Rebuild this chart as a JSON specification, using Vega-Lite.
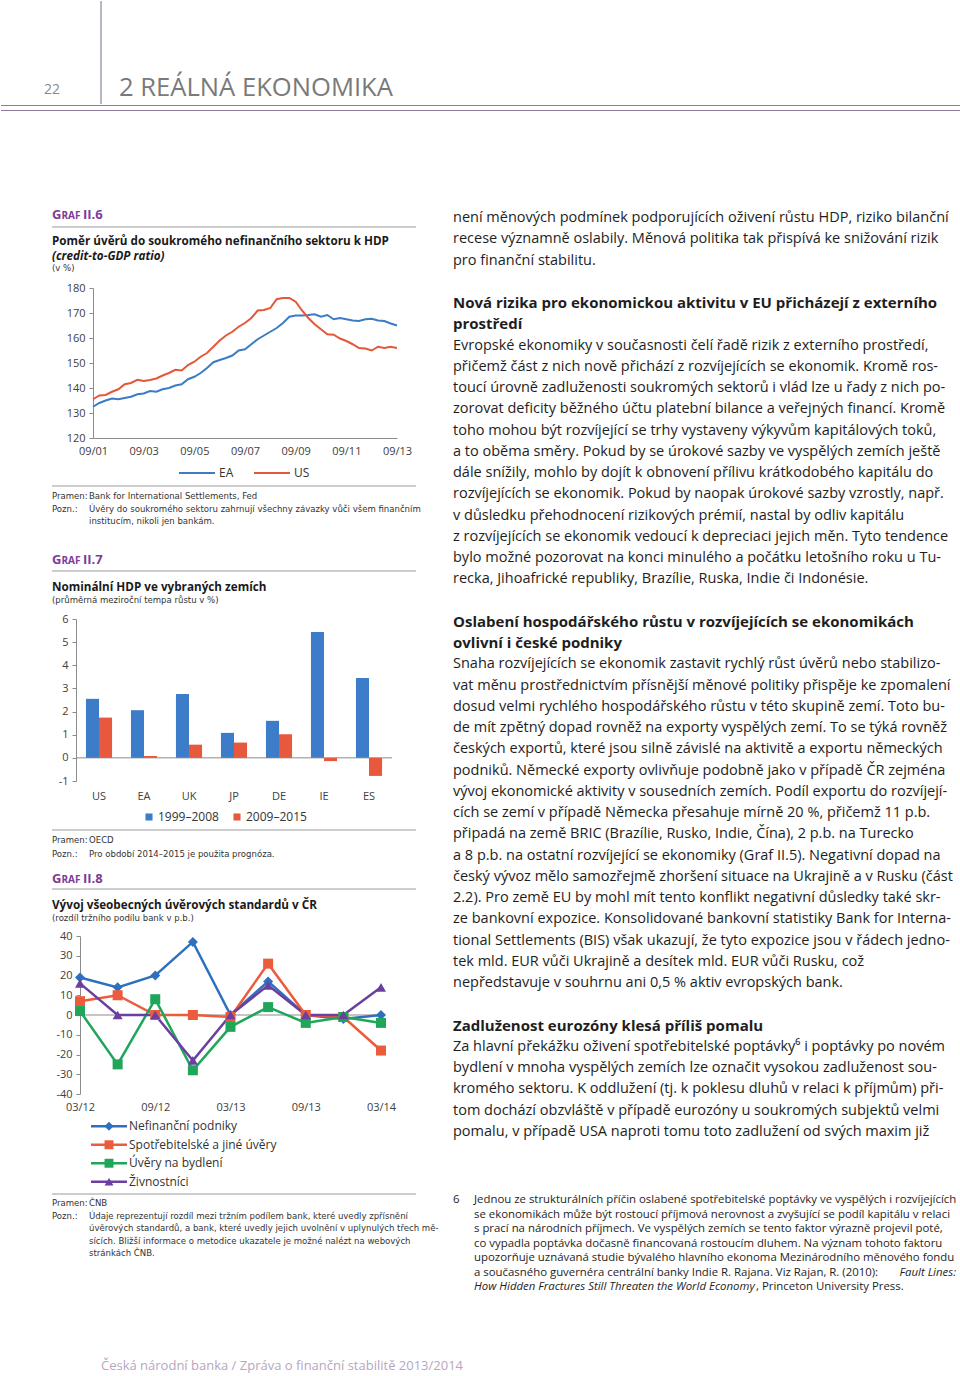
{
"$schema": "https://vega.github.io/schema/vega-lite/v6.json",
"padding": 0,
"background": "white",
"spacing": 0,
"resolve": {"scale": {"color": "independent", "shape": "independent"}, "legend": {"color": "independent", "shape": "independent"}},
"config": {
  "view": {"stroke": null},
  "font": "Open Sans",
  "axis": {"labelFont": "Open Sans", "labelFontSize": 11, "labelColor": "#404040", "domainColor": "#8c8c8c", "tickColor": "#8c8c8c", "grid": false, "labelOverlap": false, "labelBound": false},
  "legend": {"labelFont": "Open Sans", "labelFontSize": 12, "labelColor": "#333333"}
},
"datasets": {
  "credit": [
    {"period":"09/01","EA":132.5,"US":135.5},{"period":"12/01","EA":134,"US":137},{"period":"03/02","EA":135,"US":137.2},{"period":"06/02","EA":135.8,"US":138.5},
    {"period":"09/02","EA":135.5,"US":139.5},{"period":"12/02","EA":136,"US":141.5},{"period":"03/03","EA":136.5,"US":142},{"period":"06/03","EA":137.5,"US":143.3},
    {"period":"09/03","EA":137.8,"US":142.8},{"period":"12/03","EA":138.8,"US":143.2},{"period":"03/04","EA":138.5,"US":143.8},{"period":"06/04","EA":139.5,"US":145},
    {"period":"09/04","EA":140,"US":146},{"period":"12/04","EA":141,"US":147.3},{"period":"03/05","EA":141.5,"US":147},{"period":"06/05","EA":143.5,"US":149.2},
    {"period":"09/05","EA":144.5,"US":150.5},{"period":"12/05","EA":146,"US":152.5},{"period":"03/06","EA":148,"US":154},{"period":"06/06","EA":150.3,"US":156.5},
    {"period":"09/06","EA":151.2,"US":159},{"period":"12/06","EA":152,"US":161},{"period":"03/07","EA":153,"US":162.5},{"period":"06/07","EA":155,"US":164.5},
    {"period":"09/07","EA":155.5,"US":166},{"period":"12/07","EA":157.5,"US":168},{"period":"03/08","EA":159.5,"US":171},{"period":"06/08","EA":161,"US":171.2},
    {"period":"09/08","EA":162.5,"US":172},{"period":"12/08","EA":164,"US":175.5},{"period":"03/09","EA":166,"US":176},{"period":"06/09","EA":168.5,"US":176},
    {"period":"09/09","EA":169,"US":174.5},{"period":"12/09","EA":169,"US":171},{"period":"03/10","EA":169.2,"US":168},{"period":"06/10","EA":169.5,"US":165.5},
    {"period":"09/10","EA":168.5,"US":163.5},{"period":"12/10","EA":169.2,"US":161.5},{"period":"03/11","EA":167.5,"US":161.3},{"period":"06/11","EA":168,"US":159.8},
    {"period":"09/11","EA":167.5,"US":158.8},{"period":"12/11","EA":167,"US":157.5},{"period":"03/12","EA":166.8,"US":156},{"period":"06/12","EA":167.5,"US":155.8},
    {"period":"09/12","EA":167.7,"US":155},{"period":"12/12","EA":167,"US":156.5},{"period":"03/13","EA":166.8,"US":156},{"period":"06/13","EA":165.8,"US":156.5},
    {"period":"09/13","EA":165,"US":156}
  ],
  "gdp": [
    {"country":"US","period":"1999–2008","value":2.55},{"country":"US","period":"2009–2015","value":1.74},
    {"country":"EA","period":"1999–2008","value":2.06},{"country":"EA","period":"2009–2015","value":0.08},
    {"country":"UK","period":"1999–2008","value":2.76},{"country":"UK","period":"2009–2015","value":0.57},
    {"country":"JP","period":"1999–2008","value":1.08},{"country":"JP","period":"2009–2015","value":0.66},
    {"country":"DE","period":"1999–2008","value":1.6},{"country":"DE","period":"2009–2015","value":1.02},
    {"country":"IE","period":"1999–2008","value":5.44},{"country":"IE","period":"2009–2015","value":-0.14},
    {"country":"ES","period":"1999–2008","value":3.45},{"country":"ES","period":"2009–2015","value":-0.78}
  ],
  "standards": [
    {"period":"03/12","series":"Nefinanční podniky","value":19},{"period":"06/12","series":"Nefinanční podniky","value":14},{"period":"09/12","series":"Nefinanční podniky","value":20},
    {"period":"12/12","series":"Nefinanční podniky","value":37},{"period":"03/13","series":"Nefinanční podniky","value":0},{"period":"06/13","series":"Nefinanční podniky","value":17},
    {"period":"09/13","series":"Nefinanční podniky","value":0},{"period":"12/13","series":"Nefinanční podniky","value":-2},{"period":"03/14","series":"Nefinanční podniky","value":0},
    {"period":"03/12","series":"Spotřebitelské a jiné úvěry","value":7},{"period":"06/12","series":"Spotřebitelské a jiné úvěry","value":10},{"period":"09/12","series":"Spotřebitelské a jiné úvěry","value":0},
    {"period":"12/12","series":"Spotřebitelské a jiné úvěry","value":0},{"period":"03/13","series":"Spotřebitelské a jiné úvěry","value":-1},{"period":"06/13","series":"Spotřebitelské a jiné úvěry","value":26},
    {"period":"09/13","series":"Spotřebitelské a jiné úvěry","value":0},{"period":"12/13","series":"Spotřebitelské a jiné úvěry","value":-1},{"period":"03/14","series":"Spotřebitelské a jiné úvěry","value":-18},
    {"period":"03/12","series":"Úvěry na bydlení","value":2},{"period":"06/12","series":"Úvěry na bydlení","value":-25},{"period":"09/12","series":"Úvěry na bydlení","value":8},
    {"period":"12/12","series":"Úvěry na bydlení","value":-28},{"period":"03/13","series":"Úvěry na bydlení","value":-6},{"period":"06/13","series":"Úvěry na bydlení","value":4},
    {"period":"09/13","series":"Úvěry na bydlení","value":-4},{"period":"12/13","series":"Úvěry na bydlení","value":-1},{"period":"03/14","series":"Úvěry na bydlení","value":-4},
    {"period":"03/12","series":"Živnostníci","value":16},{"period":"06/12","series":"Živnostníci","value":0},{"period":"09/12","series":"Živnostníci","value":0},
    {"period":"12/12","series":"Živnostníci","value":-23},{"period":"03/13","series":"Živnostníci","value":0},{"period":"06/13","series":"Živnostníci","value":15},
    {"period":"09/13","series":"Živnostníci","value":0},{"period":"12/13","series":"Živnostníci","value":0},{"period":"03/14","series":"Živnostníci","value":14}
  ],
  "series": [
    {"series":"Nefinanční podniky"},{"series":"Spotřebitelské a jiné úvěry"},{"series":"Úvěry na bydlení"},{"series":"Živnostníci"}
  ],
  "bodytext": [
    {"line":0,"kind":"body","text":"není měnových podmínek podporujících oživení růstu HDP, riziko bilanční"},
    {"line":1,"kind":"body","text":"recese významně oslabily. Měnová politika tak přispívá ke snižování rizik"},
    {"line":2,"kind":"body","text":"pro finanční stabilitu."},
    {"line":4,"kind":"heading","text":"Nová rizika pro ekonomickou aktivitu v EU přicházejí z externího"},
    {"line":5,"kind":"heading","text":"prostředí"},
    {"line":6,"kind":"body","text":"Evropské ekonomiky v současnosti čelí řadě rizik z externího prostředí,"},
    {"line":7,"kind":"body","text":"přičemž část z nich nově přichází z rozvíjejících se ekonomik. Kromě ros-"},
    {"line":8,"kind":"body","text":"toucí úrovně zadluženosti soukromých sektorů i vlád lze u řady z nich po-"},
    {"line":9,"kind":"body","text":"zorovat deficity běžného účtu platební bilance a veřejných financí. Kromě"},
    {"line":10,"kind":"body","text":"toho mohou být rozvíjející se trhy vystaveny výkyvům kapitálových toků,"},
    {"line":11,"kind":"body","text":"a to oběma směry. Pokud by se úrokové sazby ve vyspělých zemích ještě"},
    {"line":12,"kind":"body","text":"dále snížily, mohlo by dojít k obnovení přílivu krátkodobého kapitálu do"},
    {"line":13,"kind":"body","text":"rozvíjejících se ekonomik. Pokud by naopak úrokové sazby vzrostly, např."},
    {"line":14,"kind":"body","text":"v důsledku přehodnocení rizikových prémií, nastal by odliv kapitálu"},
    {"line":15,"kind":"body","text":"z rozvíjejících se ekonomik vedoucí k depreciaci jejich měn. Tyto tendence"},
    {"line":16,"kind":"body","text":"bylo možné pozorovat na konci minulého a počátku letošního roku u Tu-"},
    {"line":17,"kind":"body","text":"recka, Jihoafrické republiky, Brazílie, Ruska, Indie či Indonésie."},
    {"line":19,"kind":"heading","text":"Oslabení hospodářského růstu v rozvíjejících se ekonomikách"},
    {"line":20,"kind":"heading","text":"ovlivní i české podniky"},
    {"line":21,"kind":"body","text":"Snaha rozvíjejících se ekonomik zastavit rychlý růst úvěrů nebo stabilizo-"},
    {"line":22,"kind":"body","text":"vat měnu prostřednictvím přísnější měnové politiky přispěje ke zpomalení"},
    {"line":23,"kind":"body","text":"dosud velmi rychlého hospodářského růstu v této skupině zemí. Toto bu-"},
    {"line":24,"kind":"body","text":"de mít zpětný dopad rovněž na exporty vyspělých zemí. To se týká rovněž"},
    {"line":25,"kind":"body","text":"českých exportů, které jsou silně závislé na aktivitě a exportu německých"},
    {"line":26,"kind":"body","text":"podniků. Německé exporty ovlivňuje podobně jako v případě ČR zejména"},
    {"line":27,"kind":"body","text":"vývoj ekonomické aktivity v sousedních zemích. Podíl exportu do rozvíjejí-"},
    {"line":28,"kind":"body","text":"cích se zemí v případě Německa přesahuje mírně 20 %, přičemž 11 p.b."},
    {"line":29,"kind":"body","text":"připadá na země BRIC (Brazílie, Rusko, Indie, Čína), 2 p.b. na Turecko"},
    {"line":30,"kind":"body","text":"a 8 p.b. na ostatní rozvíjející se ekonomiky (Graf II.5). Negativní dopad na"},
    {"line":31,"kind":"body","text":"český vývoz mělo samozřejmě zhoršení situace na Ukrajině a v Rusku (část"},
    {"line":32,"kind":"body","text":"2.2). Pro země EU by mohl mít tento konflikt negativní důsledky také skr-"},
    {"line":33,"kind":"body","text":"ze bankovní expozice. Konsolidované bankovní statistiky Bank for Interna-"},
    {"line":34,"kind":"body","text":"tional Settlements (BIS) však ukazují, že tyto expozice jsou v řádech jedno-"},
    {"line":35,"kind":"body","text":"tek mld. EUR vůči Ukrajině a desítek mld. EUR vůči Rusku, což"},
    {"line":36,"kind":"body","text":"nepředstavuje v souhrnu ani 0,5 % aktiv evropských bank."},
    {"line":38,"kind":"heading","text":"Zadluženost eurozóny klesá příliš pomalu"},
    {"line":39,"kind":"body","text":"Za hlavní překážku oživení spotřebitelské poptávky⁶ i poptávky po novém"},
    {"line":40,"kind":"body","text":"bydlení v mnoha vyspělých zemích lze označit vysokou zadluženost sou-"},
    {"line":41,"kind":"body","text":"kromého sektoru. K oddlužení (tj. k poklesu dluhů v relaci k příjmům) při-"},
    {"line":42,"kind":"body","text":"tom dochází obzvláště v případě eurozóny u soukromých subjektů velmi"},
    {"line":43,"kind":"body","text":"pomalu, v případě USA naproti tomu toto zadlužení od svých maxim již"}
  ],
  "footnote": [
    {"line":0,"text":"Jednou ze strukturálních příčin oslabené spotřebitelské poptávky ve vyspělých i rozvíjejících"},
    {"line":1,"text":"se ekonomikách může být rostoucí příjmová nerovnost a zvyšující se podíl kapitálu v relaci"},
    {"line":2,"text":"s prací na národních příjmech. Ve vyspělých zemích se tento faktor výrazně projevil poté,"},
    {"line":3,"text":"co vypadla poptávka dočasně financovaná rostoucím dluhem. Na význam tohoto faktoru"},
    {"line":4,"text":"upozorňuje uznávaná studie bývalého hlavního ekonoma Mezinárodního měnového fondu"},
    {"line":5,"text":"a současného guvernéra centrální banky Indie R. Rajana. Viz Rajan, R. (2010):"}
  ]
},
"vconcat": [
  {
    "width": 960, "height": 112,
    "data": {"values": [{}]},
    "layer": [
      {"mark": {"type": "rule", "color": "#7d6a88", "strokeWidth": 1}, "encoding": {"x": {"value": 100}, "y": {"value": 0}, "y2": {"value": 103}}},
      {"mark": {"type": "rule", "color": "#8f7b9b", "strokeWidth": 1.2}, "encoding": {"x": {"value": 0}, "x2": {"value": 960}, "y": {"value": 104.5}}},
      {"mark": {"type": "rule", "color": "#8f7b9b", "strokeWidth": 1.2}, "encoding": {"x": {"value": 0}, "x2": {"value": 960}, "y": {"value": 109.5}}},
      {"mark": {"type": "text", "text": "22", "x": 43, "y": 93, "align": "left", "baseline": "alphabetic", "fontSize": 14, "color": "#8a8a8a"}},
      {"mark": {"type": "text", "text": "2 REÁLNÁ EKONOMIKA", "x": 118, "y": 95, "align": "left", "baseline": "alphabetic", "fontSize": 25.6, "color": "#7a7a7a"}}
    ]
  },
  {
    "spacing": 0,
    "resolve": {"scale": {"color": "independent", "shape": "independent"}, "legend": {"color": "independent", "shape": "independent"}},
    "hconcat": [
      {
        "spacing": 0, "bounds": "flush",
        "resolve": {"scale": {"color": "independent", "shape": "independent"}, "legend": {"color": "independent", "shape": "independent"}},
        "vconcat": [
          {
            "width": 452, "height": 175,
            "data": {"values": [{}]},
            "layer": [
              {"mark": {"type": "text", "text": "G", "x": 51, "y": 106, "align": "left", "baseline": "alphabetic", "fontSize": 13, "fontWeight": "bold", "color": "#7d3c98"}},
              {"mark": {"type": "text", "text": "RAF", "x": 60.5, "y": 106, "align": "left", "baseline": "alphabetic", "fontSize": 10, "fontWeight": "bold", "color": "#7d3c98"}},
              {"mark": {"type": "text", "text": "II.6", "x": 82, "y": 106, "align": "left", "baseline": "alphabetic", "fontSize": 13, "fontWeight": "bold", "color": "#7d3c98"}},
              {"mark": {"type": "rule", "color": "#9b9b9b", "strokeWidth": 1}, "encoding": {"x": {"value": 51}, "x2": {"value": 415}, "y": {"value": 114}}},
              {"mark": {"type": "text", "text": "Poměr úvěrů do soukromého nefinančního sektoru k HDP", "x": 51, "y": 132, "align": "left", "baseline": "alphabetic", "fontSize": 11.7, "fontWeight": "bold", "color": "#1a1a1a"}},
              {"mark": {"type": "text", "text": "(credit-to-GDP ratio)", "x": 51, "y": 146.5, "align": "left", "baseline": "alphabetic", "fontSize": 11.7, "fontWeight": "bold", "fontStyle": "italic", "color": "#1a1a1a"}},
              {"mark": {"type": "text", "text": "(v %)", "x": 51, "y": 158, "align": "left", "baseline": "alphabetic", "fontSize": 9.5, "font": "Liberation Sans Narrow, DejaVu Sans Condensed, sans-serif", "color": "#333333"}}
            ]
          },
          {
            "width": 396, "height": 150,
            "data": {"name": "credit"},
            "transform": [{"fold": ["EA", "US"], "as": ["series", "value"]}],
            "mark": {"type": "line", "strokeWidth": 2},
            "encoding": {
              "x": {"field": "period", "type": "ordinal", "sort": null, "scale": {"type": "point", "padding": 0, "range": [92, 396]},
                    "axis": {"values": ["09/01","09/03","09/05","09/07","09/09","09/11","09/13"], "labelAngle": 0, "ticks": false, "labelPadding": 7, "labelOverlap": false, "title": null}},
              "y": {"field": "value", "type": "quantitative", "scale": {"domain": [120, 180], "nice": false, "zero": false},
                    "axis": {"values": [120,130,140,150,160,170,180], "offset": -92, "tickSize": 4, "labelPadding": 4, "labelOverlap": false, "title": null}},
              "color": {"field": "series", "type": "nominal", "scale": {"domain": ["EA", "US"], "range": ["#3b7cc4", "#e4583a"]},
                        "legend": {"orient": "none", "legendX": 177, "legendY": 166, "direction": "horizontal", "symbolType": "stroke", "symbolSize": 1296, "symbolStrokeWidth": 2, "title": null, "columnPadding": 16, "labelOffset": 3}}
            }
          },
          {
            "width": 452, "height": 181,
            "data": {"values": [{}]},
            "layer": [
              {"mark": {"type": "rule", "color": "#9b9b9b", "strokeWidth": 1}, "encoding": {"x": {"value": 51}, "x2": {"value": 415}, "y": {"value": 48}}},
              {"mark": {"type": "text", "text": "Pramen:", "x": 51, "y": 60.5, "align": "left", "baseline": "alphabetic", "fontSize": 9.5, "font": "Liberation Sans Narrow, DejaVu Sans Condensed, sans-serif", "color": "#333333"}},
              {"mark": {"type": "text", "text": "Bank for International Settlements, Fed", "x": 88, "y": 60.5, "align": "left", "baseline": "alphabetic", "fontSize": 9.5, "font": "Liberation Sans Narrow, DejaVu Sans Condensed, sans-serif", "color": "#333333"}},
              {"mark": {"type": "text", "text": "Pozn.:", "x": 51, "y": 73.5, "align": "left", "baseline": "alphabetic", "fontSize": 9.5, "font": "Liberation Sans Narrow, DejaVu Sans Condensed, sans-serif", "color": "#333333"}},
              {"mark": {"type": "text", "text": ["Úvěry do soukromého sektoru zahrnují všechny závazky vůči všem finančním", "institucím, nikoli jen bankám."], "lineHeight": 12.5, "x": 88, "y": 73.5, "align": "left", "baseline": "alphabetic", "fontSize": 9.5, "font": "Liberation Sans Narrow, DejaVu Sans Condensed, sans-serif", "color": "#333333"}},
              {"mark": {"type": "text", "text": "G", "x": 51, "y": 126, "align": "left", "baseline": "alphabetic", "fontSize": 13, "fontWeight": "bold", "color": "#7d3c98"}},
              {"mark": {"type": "text", "text": "RAF", "x": 60.5, "y": 126, "align": "left", "baseline": "alphabetic", "fontSize": 10, "fontWeight": "bold", "color": "#7d3c98"}},
              {"mark": {"type": "text", "text": "II.7", "x": 82, "y": 126, "align": "left", "baseline": "alphabetic", "fontSize": 13, "fontWeight": "bold", "color": "#7d3c98"}},
              {"mark": {"type": "rule", "color": "#9b9b9b", "strokeWidth": 1}, "encoding": {"x": {"value": 51}, "x2": {"value": 415}, "y": {"value": 133}}},
              {"mark": {"type": "text", "text": "Nominální HDP ve vybraných zemích", "x": 51, "y": 152.5, "align": "left", "baseline": "alphabetic", "fontSize": 11.7, "fontWeight": "bold", "color": "#1a1a1a"}},
              {"mark": {"type": "text", "text": "(průměrná meziroční tempa růstu v %)", "x": 51, "y": 164.5, "align": "left", "baseline": "alphabetic", "fontSize": 9.5, "font": "Liberation Sans Narrow, DejaVu Sans Condensed, sans-serif", "color": "#333333"}}
            ]
          },
          {
            "width": 391, "height": 162,
            "layer": [
              {"data": {"values": [{}]}, "mark": {"type": "rule", "color": "#8c8c8c", "strokeWidth": 1}, "encoding": {"x": {"value": 75}, "x2": {"value": 391}, "y": {"datum": 0, "type": "quantitative", "axis": {"values": [-1,0,1,2,3,4,5,6], "offset": -75, "tickSize": 4, "labelPadding": 4, "labelOverlap": false, "labelExpr": "'' + datum.value", "title": null}}}},
              {
                "data": {"name": "gdp"},
                "mark": {"type": "bar"},
                "encoding": {
                  "x": {"field": "country", "type": "nominal", "sort": null, "scale": {"range": [75.5, 390.5], "paddingInner": 0.42, "paddingOuter": 0.21},
                        "axis": {"labelAngle": 0, "domain": false, "ticks": false, "labelPadding": 9, "labelOverlap": false, "title": null}},
                  "xOffset": {"field": "period", "type": "nominal", "sort": null},
                  "y": {"field": "value", "type": "quantitative", "scale": {"domain": [-1, 6], "nice": false},
                        "axis": {"values": [-1,0,1,2,3,4,5,6], "offset": -75, "tickSize": 4, "labelPadding": 4, "labelOverlap": false, "labelExpr": "'' + datum.value", "title": null}},
                  "color": {"field": "period", "type": "nominal", "sort": null, "scale": {"domain": ["1999–2008", "2009–2015"], "range": ["#3d7cc9", "#e8583c"]},
                            "legend": {"orient": "none", "legendX": 142, "legendY": 192, "direction": "horizontal", "symbolType": "square", "symbolSize": 50, "title": null, "columnPadding": 12, "labelOffset": 3}}
                }
              }
            ]
          },
          {
            "width": 452, "height": 155,
            "data": {"values": [{}]},
            "layer": [
              {"mark": {"type": "rule", "color": "#9b9b9b", "strokeWidth": 1}, "encoding": {"x": {"value": 51}, "x2": {"value": 415}, "y": {"value": 49}}},
              {"mark": {"type": "text", "text": "Pramen:", "x": 51, "y": 61.5, "align": "left", "baseline": "alphabetic", "fontSize": 9.5, "font": "Liberation Sans Narrow, DejaVu Sans Condensed, sans-serif", "color": "#333333"}},
              {"mark": {"type": "text", "text": "OECD", "x": 88, "y": 61.5, "align": "left", "baseline": "alphabetic", "fontSize": 9.5, "font": "Liberation Sans Narrow, DejaVu Sans Condensed, sans-serif", "color": "#333333"}},
              {"mark": {"type": "text", "text": "Pozn.:", "x": 51, "y": 75.5, "align": "left", "baseline": "alphabetic", "fontSize": 9.5, "font": "Liberation Sans Narrow, DejaVu Sans Condensed, sans-serif", "color": "#333333"}},
              {"mark": {"type": "text", "text": "Pro období 2014–2015 je použita prognóza.", "x": 88, "y": 75.5, "align": "left", "baseline": "alphabetic", "fontSize": 9.5, "font": "Liberation Sans Narrow, DejaVu Sans Condensed, sans-serif", "color": "#333333"}},
              {"mark": {"type": "text", "text": "G", "x": 51, "y": 102, "align": "left", "baseline": "alphabetic", "fontSize": 13, "fontWeight": "bold", "color": "#7d3c98"}},
              {"mark": {"type": "text", "text": "RAF", "x": 60.5, "y": 102, "align": "left", "baseline": "alphabetic", "fontSize": 10, "fontWeight": "bold", "color": "#7d3c98"}},
              {"mark": {"type": "text", "text": "II.8", "x": 82, "y": 102, "align": "left", "baseline": "alphabetic", "fontSize": 13, "fontWeight": "bold", "color": "#7d3c98"}},
              {"mark": {"type": "rule", "color": "#9b9b9b", "strokeWidth": 1}, "encoding": {"x": {"value": 51}, "x2": {"value": 415}, "y": {"value": 108}}},
              {"mark": {"type": "text", "text": "Vývoj všeobecných úvěrových standardů v ČR", "x": 51, "y": 127.5, "align": "left", "baseline": "alphabetic", "fontSize": 11.7, "fontWeight": "bold", "color": "#1a1a1a"}},
              {"mark": {"type": "text", "text": "(rozdíl tržního podílu bank v p.b.)", "x": 51, "y": 139.5, "align": "left", "baseline": "alphabetic", "fontSize": 9.5, "font": "Liberation Sans Narrow, DejaVu Sans Condensed, sans-serif", "color": "#333333"}}
            ]
          },
          {
            "width": 384, "height": 158,
            "layer": [
              {"data": {"values": [{}]}, "mark": {"type": "rule", "color": "#8c8c8c", "strokeWidth": 1}, "encoding": {"x": {"value": 79}, "x2": {"value": 384}, "y": {"datum": 0, "type": "quantitative", "axis": {"values": [-40,-30,-20,-10,0,10,20,30,40], "offset": -79, "tickSize": 4, "labelPadding": 4, "labelOverlap": false, "labelExpr": "'' + datum.value", "title": null}}}},
              {
                "data": {"name": "standards"},
                "mark": {"type": "line", "strokeWidth": 2.5},
                "encoding": {
                  "x": {"field": "period", "type": "ordinal", "sort": null, "scale": {"type": "point", "padding": 0, "range": [79, 380]},
                        "axis": {"values": ["03/12","09/12","03/13","09/13","03/14"], "labelAngle": 0, "domain": false, "ticks": false, "labelPadding": 7, "labelOverlap": false, "title": null}},
                  "y": {"field": "value", "type": "quantitative", "scale": {"domain": [-40, 40], "nice": false},
                        "axis": {"values": [-40,-30,-20,-10,0,10,20,30,40], "offset": -79, "tickSize": 4, "labelPadding": 4, "labelOverlap": false, "labelExpr": "'' + datum.value", "title": null}},
                  "color": {"field": "series", "type": "nominal", "sort": null,
                            "scale": {"domain": ["Nefinanční podniky","Spotřebitelské a jiné úvěry","Úvěry na bydlení","Živnostníci"], "range": ["#2f6fbf","#ec5b3b","#1fa65a","#6b3fa0"]}, "legend": null}
                }
              },
              {
                "data": {"name": "standards"},
                "mark": {"type": "point", "filled": true, "opacity": 1, "size": 100},
                "encoding": {
                  "x": {"field": "period", "type": "ordinal", "sort": null,
                        "axis": {"values": ["03/12","09/12","03/13","09/13","03/14"], "labelAngle": 0, "domain": false, "ticks": false, "labelPadding": 7, "labelOverlap": false, "title": null}},
                  "y": {"field": "value", "type": "quantitative",
                        "axis": {"values": [-40,-30,-20,-10,0,10,20,30,40], "offset": -79, "tickSize": 4, "labelPadding": 4, "labelOverlap": false, "labelExpr": "'' + datum.value", "title": null}},
                  "color": {"field": "series", "type": "nominal", "sort": null, "legend": null},
                  "shape": {"field": "series", "type": "nominal", "sort": null,
                            "scale": {"domain": ["Nefinanční podniky","Spotřebitelské a jiné úvěry","Úvěry na bydlení","Živnostníci"], "range": ["diamond","square","square","triangle-up"]}, "legend": null}
                }
              }
            ]
          },
          {"width": 10, "height": 23, "data": {"values": [{}]}, "mark": {"type": "point", "opacity": 0, "size": 0}, "encoding": {}},
          {
            "width": 452, "height": 74,
            "data": {"name": "series"},
            "encoding": {"y": {"field": "series", "type": "nominal", "sort": null, "scale": {"type": "point", "padding": 0.5}, "axis": null}},
            "layer": [
              {"mark": {"type": "rule", "strokeWidth": 2.5},
               "encoding": {"x": {"value": 90}, "x2": {"value": 126},
                            "color": {"field": "series", "type": "nominal", "sort": null, "scale": {"domain": ["Nefinanční podniky","Spotřebitelské a jiné úvěry","Úvěry na bydlení","Živnostníci"], "range": ["#2f6fbf","#ec5b3b","#1fa65a","#6b3fa0"]}, "legend": null}}},
              {"mark": {"type": "point", "filled": true, "opacity": 1, "size": 80},
               "encoding": {"x": {"value": 108},
                            "color": {"field": "series", "type": "nominal", "sort": null, "legend": null},
                            "shape": {"field": "series", "type": "nominal", "sort": null, "scale": {"domain": ["Nefinanční podniky","Spotřebitelské a jiné úvěry","Úvěry na bydlení","Živnostníci"], "range": ["diamond","square","square","triangle-up"]}, "legend": null}}},
              {"mark": {"type": "text", "align": "left", "baseline": "middle", "fontSize": 12, "color": "#333333"},
               "encoding": {"x": {"value": 128}, "text": {"field": "series"}}}
            ]
          },
          {
            "width": 452, "height": 74,
            "data": {"values": [{}]},
            "layer": [
              {"mark": {"type": "rule", "color": "#9b9b9b", "strokeWidth": 1}, "encoding": {"x": {"value": 51}, "x2": {"value": 415}, "y": {"value": 3}}},
              {"mark": {"type": "text", "text": "Pramen:", "x": 51, "y": 14.5, "align": "left", "baseline": "alphabetic", "fontSize": 9.5, "font": "Liberation Sans Narrow, DejaVu Sans Condensed, sans-serif", "color": "#333333"}},
              {"mark": {"type": "text", "text": "ČNB", "x": 88, "y": 14.5, "align": "left", "baseline": "alphabetic", "fontSize": 9.5, "font": "Liberation Sans Narrow, DejaVu Sans Condensed, sans-serif", "color": "#333333"}},
              {"mark": {"type": "text", "text": "Pozn.:", "x": 51, "y": 27.5, "align": "left", "baseline": "alphabetic", "fontSize": 9.5, "font": "Liberation Sans Narrow, DejaVu Sans Condensed, sans-serif", "color": "#333333"}},
              {"mark": {"type": "text", "text": ["Údaje reprezentují rozdíl mezi tržním podílem bank, které uvedly zpřísnění", "úvěrových standardů, a bank, které uvedly jejich uvolnění v uplynulých třech mě-", "sících. Bližší informace o metodice ukazatele je možné nalézt na webových", "stránkách ČNB."], "lineHeight": 12.6, "x": 88, "y": 27.5, "align": "left", "baseline": "alphabetic", "fontSize": 9.5, "font": "Liberation Sans Narrow, DejaVu Sans Condensed, sans-serif", "color": "#333333"}}
            ]
          }
        ]
      },
      {
        "spacing": 0, "bounds": "flush",
        "vconcat": [
          {"width": 10, "height": 105, "data": {"values": [{}]}, "mark": {"type": "point", "opacity": 0, "size": 0}, "encoding": {}},
          {
            "width": 508, "height": 914,
            "data": {"name": "bodytext"},
            "encoding": {
              "y": {"field": "line", "type": "quantitative", "scale": {"domain": [0, 43], "reverse": true, "nice": false, "zero": false}, "axis": null},
              "text": {"field": "text"}
            },
            "layer": [
              {"transform": [{"filter": "datum.kind === 'body'"}], "mark": {"type": "text", "align": "left", "baseline": "middle", "x": 0, "fontSize": 14.5, "color": "#1e1e1e"}},
              {"transform": [{"filter": "datum.kind === 'heading'"}], "mark": {"type": "text", "align": "left", "baseline": "middle", "x": 0, "fontSize": 15, "fontWeight": "bold", "color": "#1e1e1e"}}
            ]
          },
          {"width": 10, "height": 68, "data": {"values": [{}]}, "mark": {"type": "point", "opacity": 0, "size": 0}, "encoding": {}},
          {
            "width": 508, "height": 101.5,
            "encoding": {
              "y": {"field": "line", "type": "quantitative", "scale": {"domain": [0, 7], "reverse": true, "nice": false, "zero": false}, "axis": null},
              "text": {"field": "text"}
            },
            "layer": [
              {"data": {"name": "footnote"}, "mark": {"type": "text", "align": "left", "baseline": "middle", "x": 21, "fontSize": 11.4, "color": "#1e1e1e"}},
              {"data": {"values": [{"line": 0, "text": "6"}]}, "mark": {"type": "text", "align": "left", "baseline": "middle", "x": 0, "fontSize": 11.4, "color": "#1e1e1e"}},
              {"data": {"values": [{"line": 5, "text": "Fault Lines:"}]}, "mark": {"type": "text", "align": "right", "baseline": "middle", "x": 503, "fontSize": 11.4, "fontStyle": "italic", "color": "#1e1e1e"}},
              {"data": {"values": [{"line": 6, "text": "How Hidden Fractures Still Threaten the World Economy"}]}, "mark": {"type": "text", "align": "left", "baseline": "middle", "x": 21, "fontSize": 11.4, "fontStyle": "italic", "color": "#1e1e1e"}},
              {"data": {"values": [{"line": 6, "text": ", Princeton University Press."}]}, "mark": {"type": "text", "align": "left", "baseline": "middle", "x": 303, "fontSize": 11.4, "color": "#1e1e1e"}}
            ]
          }
        ]
      }
    ]
  },
  {
    "width": 960, "height": 75,
    "data": {"values": [{}]},
    "mark": {"type": "text", "text": "Česká národní banka / Zpráva o finanční stabilitě 2013/2014", "x": 100, "y": 68, "align": "left", "baseline": "alphabetic", "fontSize": 13, "color": "#b8a6bf"}
  }
]
}
